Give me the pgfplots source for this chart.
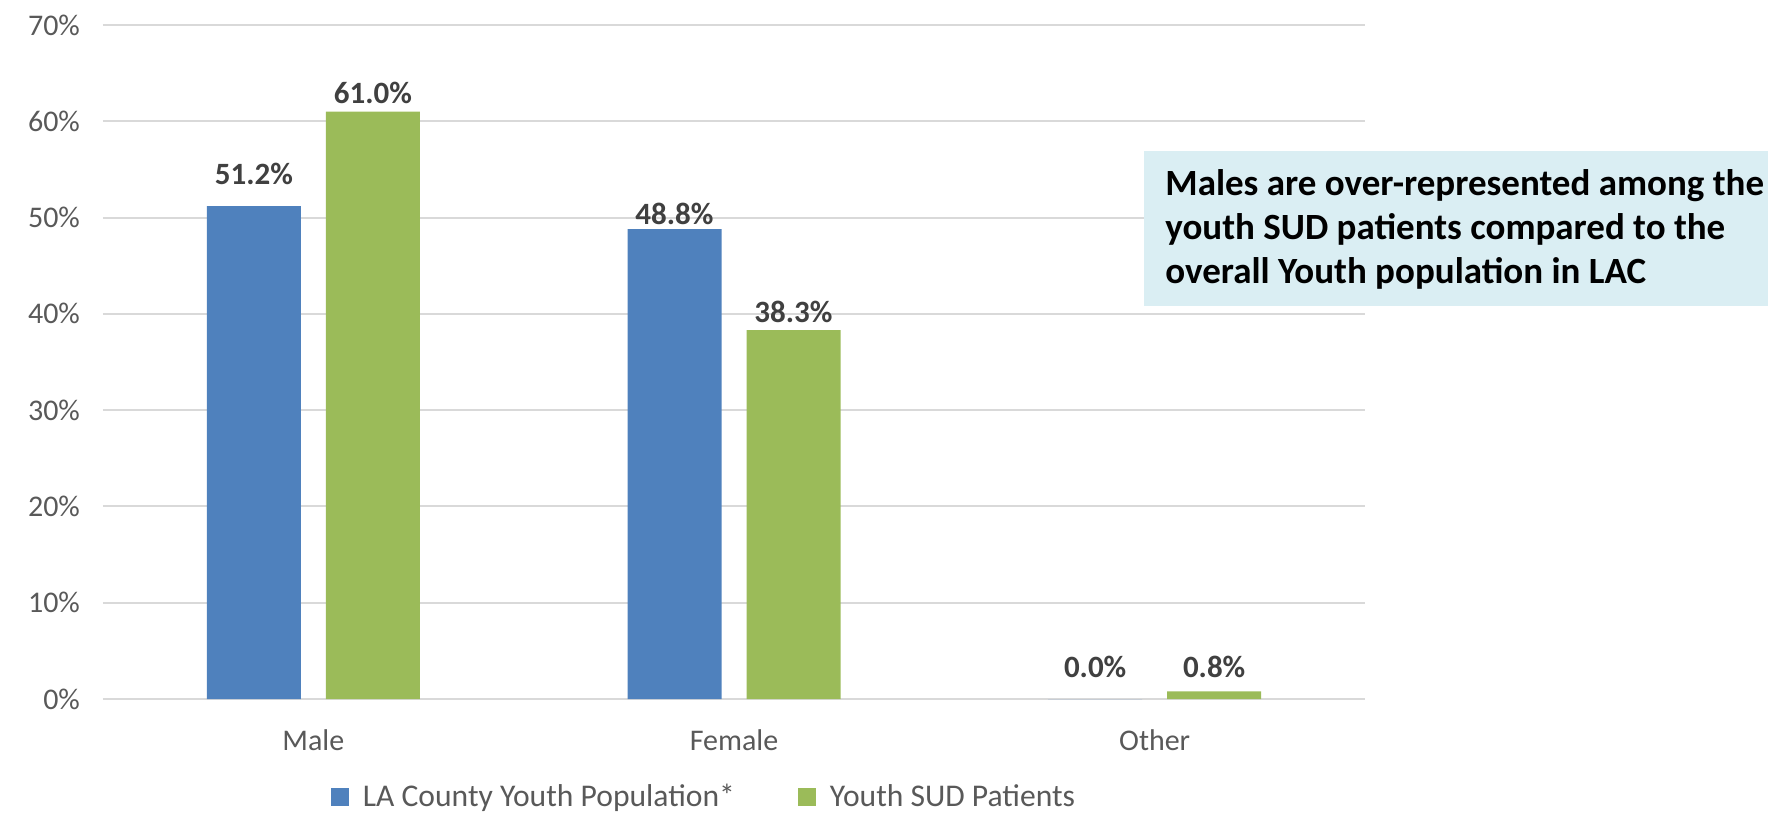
\documentclass[border=0pt]{standalone}
\usepackage{pgfplots}
\pgfplotsset{compat=1.18}
\usepackage{pgfplotstable}
\usepackage{fontspec}
\setmainfont{Carlito}
\definecolor{cblue}{HTML}{4F81BD}
\definecolor{cgreen}{HTML}{9BBB59}
\definecolor{cgrid}{HTML}{D9D9D9}
\definecolor{ctick}{HTML}{595959}
\definecolor{clab}{HTML}{404040}
\definecolor{cbox}{HTML}{DAEEF3}
\pgfplotstableread{
x y dy
0 51.2 11
1 48.8 2.5
2 0.0 11
}\tblA
\pgfplotstableread{
x y dy
0 61.0 4
1 38.3 4
2 0.8 7
}\tblB
\begin{document}
\begin{tikzpicture}
\path[use as bounding box] (0,0) rectangle (884pt,407pt);
\begin{axis}[
  at={(51.5pt,57.5pt)}, anchor=south west,
  scale only axis, width=631pt, height=337pt,
  xmin=-0.5, xmax=2.5, ymin=0, ymax=70,
  ybar=12.5pt, bar width=47pt,
  axis line style={draw=none},
  major tick length=0pt,
  ymajorgrids, grid style={cgrid, line width=1pt},
  ytick={0,10,...,70},
  yticklabels={0\%,10\%,20\%,30\%,40\%,50\%,60\%,70\%},
  xtick={0,1,2},
  xticklabels={Male,Female,Other},
  tick label style={font=\fontsize{15}{18}\selectfont, text=ctick},
  xticklabel style={yshift=-12pt},
  yticklabel style={xshift=-8pt},
  nodes near coords={\pgfmathprintnumber[fixed,fixed zerofill,precision=1,assume math mode=true]{\pgfplotspointmeta}\%},
  visualization depends on={\thisrow{dy} \as \dy},
  every node near coord/.append style={font=\bfseries\fontsize{15.5}{18}\selectfont, text=clab, anchor=base, yshift=\dy pt, inner sep=0pt},
  legend style={at={(0.477,-0.145)}, anchor=center, draw=none, fill=none,
    font=\fontsize{15.8}{19}\selectfont, text=ctick, legend columns=2,
    /tikz/every odd column/.append style={column sep=5pt},
    /tikz/every even column/.append style={column sep=29.5pt},
    inner sep=0pt, outer sep=0pt},
  legend image code/.code={\fill[#1] (0pt,-4.5pt) rectangle (9pt,4.5pt);},
]
\addplot[fill=cblue, draw=none] table[x=x,y=y] {\tblA};
\addplot[fill=cgreen, draw=none] table[x=x,y=y] {\tblB};
\legend{LA County Youth Population*, Youth SUD Patients}
\end{axis}
\fill[cbox] (572pt,254pt) rectangle (884pt,331.5pt);
\node[anchor=base west, inner sep=0pt, align=left, font=\bfseries\fontsize{18.5}{22.2}\selectfont] at (582.5pt,265pt)
  {Males are over-represented among the\\youth SUD patients compared to the\\overall Youth population in LAC};
\end{tikzpicture}
\end{document}
